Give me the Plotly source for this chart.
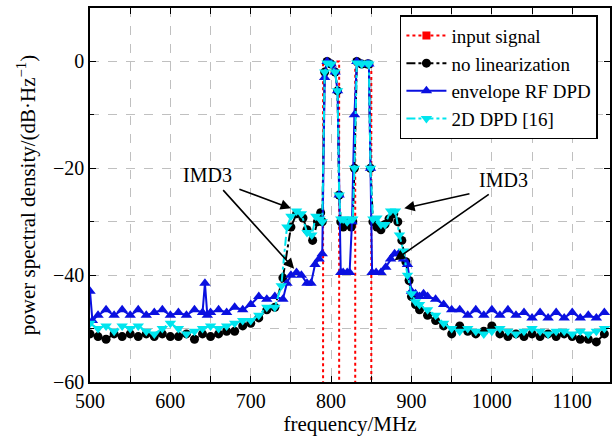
import plotly.graph_objects as go

# ---------------- data ----------------
f_input = [790, 790, 810, 810, 830, 830, 850, 850]
psd_input = [-75, 0, 0, -75, -75, 0, 0, -75]

f_nolin = [500, 510, 520, 530, 540, 550, 560, 570, 580, 590, 600, 610, 620, 630, 640, 650,
           660, 670, 680, 690, 700, 710, 720, 730, 740, 750, 757, 765, 770, 777, 783, 787,
           789, 792, 795, 800, 805, 808, 810, 812, 815, 820, 825, 827, 829, 832, 838, 845,
           847, 849, 852, 857, 862, 867, 872, 878, 883, 888, 893, 897, 900, 905, 910, 920,
           930, 940, 950, 960, 970, 980, 990, 1000, 1010, 1020, 1030, 1040, 1050, 1060,
           1070, 1080, 1090, 1100, 1110, 1120, 1130, 1140]
psd_nolin = [-51, -51.5, -52, -51, -51.5, -51, -51.5, -51, -51.5, -51, -51.5, -51.5, -51, -52,
             -51, -51.5, -51, -50.5, -50.5, -49.5, -49, -48, -46.5, -46, -40.5, -31, -28.5,
             -29.3, -31.5, -33.5, -30, -28.3, -30, -2, 0, -0.5, -2, -5.5, -25, -30, -31, -30,
             -31, -30, -20, 0, -0.5, -0.5, -0.5, -20, -30, -31, -31.5, -30.5, -29.5, -28.5,
             -30, -33.5, -37.5, -41, -44, -45.5, -46.5, -47.5, -48.5, -49.5, -51, -49.5,
             -50.5, -51, -50.5, -49.5, -51, -51.5, -51, -51.5, -51, -51.5, -51, -51.5, -51,
             -51.5, -52, -52, -52.5, -51]

f_env = [500, 503, 510, 520, 530, 540, 550, 560, 570, 580, 590, 600, 610, 620, 630, 640, 643,
         646, 650, 660, 670, 680, 690, 700, 710, 720, 730, 740, 745, 750, 757, 763, 770, 775,
         780, 785, 789, 792, 795, 800, 805, 808, 810, 812, 815, 820, 823, 826, 829, 832, 838,
         845, 847, 849, 851, 856, 862, 868, 874, 879, 884, 890, 895, 900, 905, 910, 915, 920,
         930, 940, 950, 960, 970, 980, 990, 1000, 1010, 1020, 1030, 1040, 1050, 1060, 1070,
         1080, 1090, 1100, 1110, 1120, 1130, 1140]
psd_env = [-43, -48.5, -47.5, -46.5, -47.5, -46.5, -47.5, -46.5, -47.5, -47, -46.5, -47.5,
           -47, -47.5, -46.5, -47, -41.5, -47.5, -47, -46.5, -47, -46, -46.5, -45.5, -44,
           -44.5, -44, -44.5, -41.5, -40, -39.5, -40, -41.5, -41.5, -38, -37, -36, -3, 0,
           -0.5, -2, -5.5, -25, -39.5, -39.5, -39.5, -39.5, -30, -10, 0, -0.5, -0.5, -0.5,
           -20, -39.5, -39.5, -39.5, -38.5, -37, -36, -36, -37, -38, -43, -43.5, -44, -43.5,
           -44, -44.5, -45.5, -46.5, -46.5, -47.5, -46.5, -47.5, -46.5, -47.5, -46.5, -47.5,
           -47, -48, -47, -48, -47, -48, -47, -48, -47.5, -48, -47]

f_2d = [500, 510, 520, 530, 540, 550, 560, 570, 580, 590, 600, 610, 620, 630, 640, 650, 660,
        670, 680, 690, 700, 710, 720, 730, 738, 745, 750, 757, 763, 770, 776, 781, 786, 789,
        792, 795, 800, 805, 808, 810, 812, 815, 820, 825, 827, 829, 832, 838, 845, 847, 849,
        852, 857, 862, 867, 874, 880, 885, 890, 895, 900, 905, 910, 920, 930, 940, 950, 960,
        970, 980, 990, 1000, 1010, 1020, 1030, 1040, 1050, 1060, 1070, 1080, 1090, 1100,
        1110, 1120, 1130, 1140]
psd_2d = [-49, -50, -49.5, -50.5, -49.5, -50, -49.5, -50.5, -51, -50, -49, -50, -51, -50.5,
          -50, -49.5, -50, -49.5, -49, -48.5, -48.5, -47.5, -46, -46, -42, -31, -29, -28,
          -28.5, -32, -32.5, -29, -29.5, -30, -2, -0.3, -0.5, -2, -5.5, -25, -29.5, -29.5,
          -30, -29.5, -29.5, -20, -0.3, -0.5, -0.3, -0.5, -20, -29.5, -29.3, -30.5, -30.5,
          -28, -28, -32.5, -35.5, -40, -43.5, -45, -45.5, -46.5, -47.5, -49, -50, -50.5, -50,
          -50.5, -51, -50.5, -50, -50.5, -51, -50.5, -50, -50.5, -51, -50.5, -50.5, -51,
          -50.5, -51, -50.5, -50]

x_ticks = [500, 600, 700, 800, 900, 1000, 1100]
y_ticks = [-60, -40, -20, 0]

FONT = "Liberation Serif, Times New Roman, serif"
RED = "#ff0000"

fig = go.Figure()
# input signal: line drawn without visible markers (they are hidden under the other traces)
fig.add_trace(go.Scatter(x=f_input, y=psd_input, name="input signal", mode="lines",
                         line=dict(color=RED, width=2, dash="dot"),
                         legendgroup="in", showlegend=False))
# legend entry for the input signal (line + square marker)
fig.add_trace(go.Scatter(x=[None], y=[None], name="input signal", mode="lines+markers",
                         line=dict(color=RED, width=2, dash="dot"),
                         marker=dict(symbol="square", size=8, color=RED),
                         legendgroup="in"))
fig.add_trace(go.Scatter(x=f_nolin, y=psd_nolin, name="no linearization", mode="lines+markers",
                         line=dict(color="black", width=2, dash="dashdot"),
                         marker=dict(symbol="circle", size=9, color="black")))
fig.add_trace(go.Scatter(x=f_env, y=psd_env, name="envelope RF DPD", mode="lines+markers",
                         line=dict(color="#0a10e0", width=2),
                         marker=dict(symbol="triangle-up", size=10, color="#0a10e0")))
fig.add_trace(go.Scatter(x=f_2d, y=psd_2d, name="2D DPD [16]", mode="lines+markers",
                         line=dict(color="#00e5ee", width=2, dash="dashdot"),
                         marker=dict(symbol="triangle-down", size=10, color="#00e5ee")))

arrows = [(750, -27.5, 684, -23.8), (754, -38.8, 664, -23.8),
          (891, -27.5, 974, -24.7), (879, -37.2, 998, -24.7)]
for (hx, hy, tx, ty) in arrows:
    fig.add_annotation(x=hx, y=hy, ax=tx, ay=ty, xref="x", yref="y", axref="x", ayref="y",
                       text="", showarrow=True, arrowhead=2, arrowsize=1.3, arrowwidth=1.6,
                       arrowcolor="black")
fig.add_annotation(x=646, y=-21.3, text="IMD3", showarrow=False, xref="x", yref="y",
                   font=dict(family=FONT, size=20, color="black"))
fig.add_annotation(x=1015, y=-22.2, text="IMD3", showarrow=False, xref="x", yref="y",
                   font=dict(family=FONT, size=20, color="black"))

grid = dict(showgrid=True, gridcolor="#c0c0c0", gridwidth=1, griddash="dash")
fig.update_layout(
    width=614, height=439,
    margin=dict(l=90, r=2, t=8, b=57),
    paper_bgcolor="white", plot_bgcolor="white",
    font=dict(family=FONT, size=20, color="black"),
    showlegend=True,
    legend=dict(x=0.596, y=0.981, xanchor="left", yanchor="top",
                bgcolor="white", bordercolor="black", borderwidth=1.5,
                font=dict(family=FONT, size=19, color="black"),
                tracegroupgap=0, itemwidth=40),
    xaxis=dict(range=[500, 1147], tickvals=x_ticks, ticks="inside", ticklen=6,
               tickcolor="black", showline=True, linecolor="black", linewidth=1.5,
               mirror="ticks", zeroline=False,
               minor=dict(dtick=50, tick0=500, ticks="inside", ticklen=6, tickcolor="black",
                          **grid),
               title=dict(text="frequency/MHz", standoff=4, font=dict(size=21)),
               **grid),
    yaxis=dict(range=[-60, 10], tickvals=y_ticks, ticks="inside", ticklen=6,
               tickcolor="black", showline=True, linecolor="black", linewidth=1.5,
               mirror="ticks", zeroline=False,
               minor=dict(dtick=10, tick0=0, ticks="inside", ticklen=4, tickcolor="black",
                          **grid),
               title=dict(text="power spectral density/(dB·Hz<sup>−1</sup>)", standoff=12,
                          font=dict(size=21)),
               **grid),
)

fig.write_html("out.html")
